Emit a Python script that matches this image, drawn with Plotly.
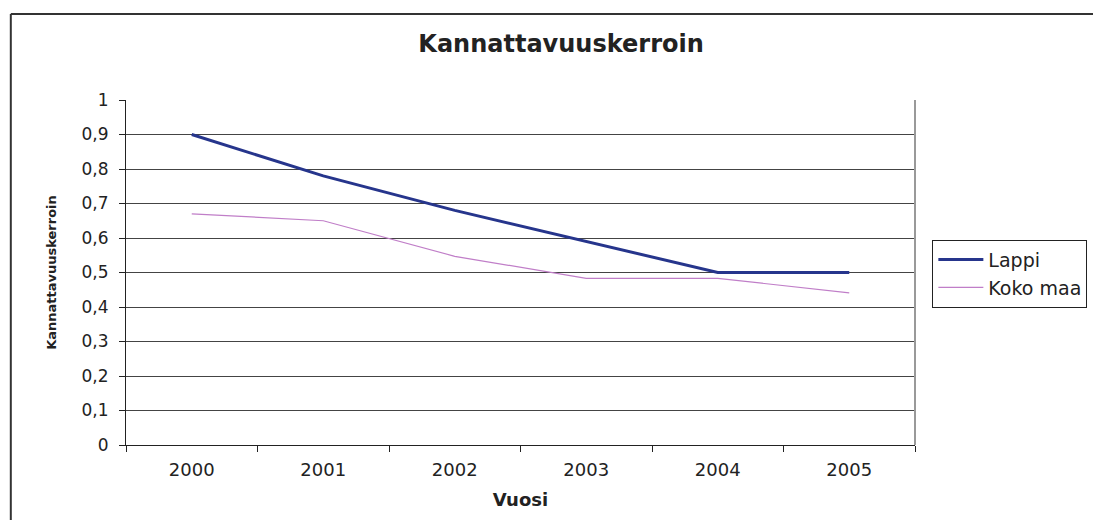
import plotly.graph_objects as go

# Chart data
years = ['2000', '2001', '2002', '2003', '2004', '2005']
lappi = [0.90, 0.78, 0.68, 0.59, 0.50, 0.50]
koko_maa = [0.67, 0.65, 0.547, 0.483, 0.483, 0.441]

# Y-axis ticks (Finnish decimal comma)
y_ticks = [0, 0.1, 0.2, 0.3, 0.4, 0.5, 0.6, 0.7, 0.8, 0.9, 1.0]
y_labels = ['0', '0,1', '0,2', '0,3', '0,4', '0,5', '0,6', '0,7', '0,8', '0,9', '1']

FONT = 'DejaVu Sans'


def main():
    fig = go.Figure()

    fig.add_trace(go.Scatter(
        x=years, y=lappi, name='Lappi', mode='lines',
        line=dict(color='#26358C', width=3),
    ))
    fig.add_trace(go.Scatter(
        x=years, y=koko_maa, name='Koko maa', mode='lines',
        line=dict(color='#C07EC8', width=1.2),
    ))

    # page body has an 8px margin, so the figure is a bit smaller than the window
    fig.update_layout(
        width=1093, height=512,
        margin=dict(l=118, r=186, t=92, b=75),
        paper_bgcolor='white', plot_bgcolor='white',
        font=dict(family=FONT, color='#222', size=17),
        title=dict(
            text='<b>Kannattavuuskerroin</b>',
            x=0.506, xref='container', xanchor='center',
            y=0.93, yref='container', yanchor='middle',
            font=dict(family=FONT, size=24, color='#222'),
        ),
        showlegend=True,
        legend=dict(
            x=1.022, xanchor='left', y=0.595, yanchor='top',
            bordercolor='#222', borderwidth=1, bgcolor='white',
            font=dict(family=FONT, size=19, color='#222'),
            itemwidth=45, tracegroupgap=0,
        ),
    )

    fig.update_xaxes(
        type='category', range=[-0.5, 5.5],
        tickson='boundaries', ticks='outside', ticklen=6,
        tickcolor='#222', showline=True, linecolor='#222', linewidth=1,
        showgrid=False, zeroline=False,
        tickfont=dict(family=FONT, size=18, color='#222'),
        ticklabelstandoff=8,
        title=dict(text='<b>Vuosi</b>', standoff=14,
                   font=dict(family=FONT, size=18, color='#222')),
    )
    fig.update_yaxes(
        range=[0, 1], tickvals=y_ticks, ticktext=y_labels,
        ticks='outside', ticklen=6, tickcolor='#222',
        showline=True, linecolor='#222', linewidth=1,
        showgrid=True, gridcolor='#444', gridwidth=1, zeroline=False,
        tickfont=dict(family=FONT, size=17, color='#222'),
        ticklabelstandoff=7,
        title=dict(text='<b>Kannattavuuskerroin</b>', standoff=22,
                   font=dict(family=FONT, size=13, color='#222')),
    )

    # Right border of the plot area
    fig.add_shape(type='line', xref='paper', yref='paper',
                  x0=1, x1=1, y0=0, y1=1,
                  line=dict(color='#999', width=2))
    # Outer chart frame (top and left edges visible)
    fig.add_shape(type='line', xref='paper', yref='paper',
                  x0=-0.146, x1=1.3, y0=1.249, y1=1.249,
                  line=dict(color='#333', width=2))
    fig.add_shape(type='line', xref='paper', yref='paper',
                  x0=-0.146, x1=-0.146, y0=-0.3, y1=1.249,
                  line=dict(color='#333', width=2))

    fig.write_html('out.html')


if __name__ == '__main__':
    main()
